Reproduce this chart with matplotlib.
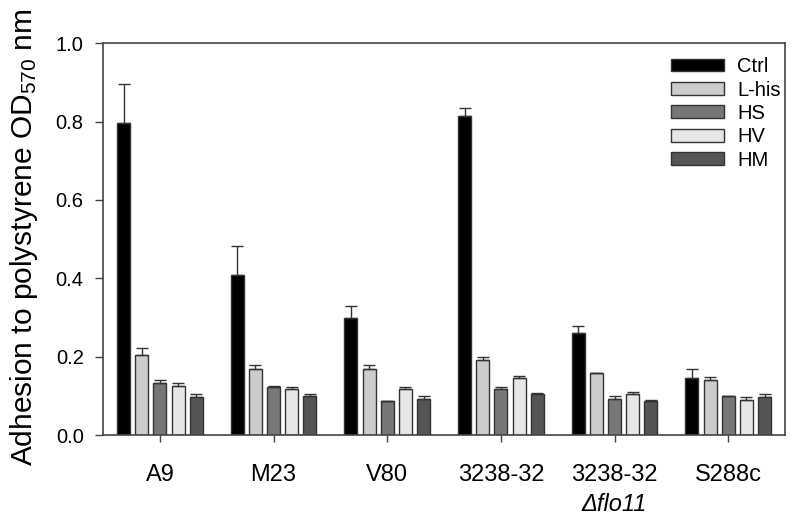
import numpy as np
import matplotlib
matplotlib.use('Agg')
import matplotlib.pyplot as plt

plt.rcParams['font.family'] = ['Liberation Sans', 'DejaVu Sans']
plt.rcParams['mathtext.fontset'] = 'custom'
plt.rcParams['mathtext.rm'] = 'Liberation Sans'
plt.rcParams['mathtext.it'] = 'Liberation Sans:italic'

strains = ['A9', 'M23', 'V80', '3238-32', '3238-32', 'S288c']
sub_label = '\u0394flo11'
series = ['Ctrl', 'L-his', 'HS', 'HV', 'HM']
colors = ['#000000', '#cccccc', '#777777', '#e6e6e6', '#555555']

ctrl = [0.796, 0.408, 0.300, 0.814, 0.262, 0.147]
lhis = [0.204, 0.170, 0.168, 0.191, 0.160, 0.142]
hs = [0.132, 0.123, 0.087, 0.118, 0.093, 0.099]
hv = [0.125, 0.118, 0.117, 0.145, 0.106, 0.091]
hm = [0.098, 0.099, 0.093, 0.105, 0.088, 0.098]

ctrl_err = [0.100, 0.074, 0.030, 0.020, 0.016, 0.023]
lhis_err = [0.019, 0.008, 0.010, 0.008, 0.0, 0.006]
hs_err = [0.010, 0.003, 0.0, 0.004, 0.008, 0.0]
hv_err = [0.009, 0.004, 0.006, 0.005, 0.005, 0.007]
hm_err = [0.008, 0.007, 0.008, 0.004, 0.003, 0.006]

values = [ctrl, lhis, hs, hv, hm]
errors = [ctrl_err, lhis_err, hs_err, hv_err, hm_err]

fig = plt.figure(figsize=(7.93, 5.2), dpi=100)
ax = fig.add_axes([0.130, 0.163, 0.860, 0.754])

x = np.arange(len(strains))
step = 0.16
w = 0.115
for i in range(5):
    pos = x + (i - 2) * step
    ax.bar(pos, values[i], w, color=colors[i], edgecolor='#333333', linewidth=1.0,
           label=series[i], zorder=2)
    ax.errorbar(pos, values[i], yerr=[np.zeros(6), errors[i]], fmt='none',
                ecolor='#333333', elinewidth=1.0, capsize=4.5, capthick=1.0, zorder=3)

ax.set_xlim(-0.5, 5.5)
ax.set_ylim(0, 1.0)
ax.set_yticks([0.0, 0.2, 0.4, 0.6, 0.8, 1.0])
ax.set_xticks(x)
ax.set_xticklabels(strains, fontsize=17)
ax.tick_params(axis='y', labelsize=14.5, direction='out', length=6, width=1,
               color='#444444', pad=8)
ax.tick_params(axis='x', direction='out', length=5, width=1, color='#444444', pad=16)
for s in ax.spines.values():
    s.set_color('#444444')
    s.set_linewidth(1.2)

ax.text(4, -0.147, sub_label, transform=ax.get_xaxis_transform(), ha='center',
        va='top', fontsize=17, fontstyle='italic')

ax.set_ylabel('Adhesion to polystyrene OD$_{570}$ nm', fontsize=21.5)
ax.yaxis.set_label_coords(-0.092, 0.505)

ax.legend(loc='upper right', frameon=False, fontsize=14.5, handlelength=2.6,
          handleheight=0.6, labelspacing=0.22, handletextpad=0.65,
          borderaxespad=0.0, bbox_to_anchor=(1.005, 0.985))

fig.savefig('out.png', dpi=100)
